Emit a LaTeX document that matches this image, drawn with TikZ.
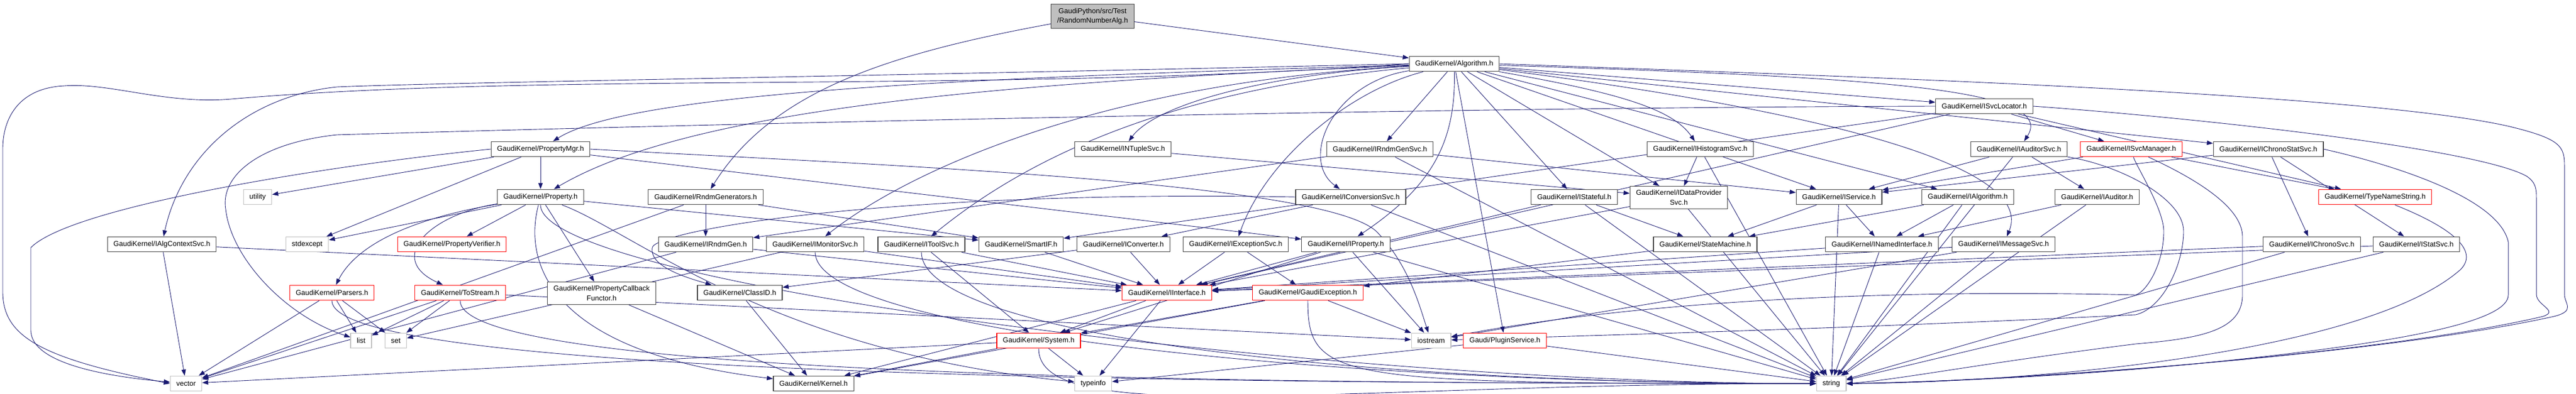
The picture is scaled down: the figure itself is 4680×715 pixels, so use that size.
\documentclass[tikz,border=0pt]{standalone}
\usepackage{fontspec}
\setmainfont{Liberation Sans}
\usetikzlibrary{arrows.meta,backgrounds}

\definecolor{midnight}{HTML}{191970}
\definecolor{boxgray}{HTML}{404040}
\definecolor{sysgray}{HTML}{BFBFBF}

\tikzset{
  hdr/.style={draw=boxgray, line width=1.3pt, fill=white, inner xsep=11pt, inner ysep=7pt,
    minimum height=27.5pt, align=center, font=\fontsize{13}{17.4}\selectfont},
  trunc/.style={hdr, draw=red},
  sys/.style={hdr, draw=sysgray, line width=1.2pt},
  root/.style={hdr, fill=sysgray},
  dep/.style={draw=midnight, line width=0.9pt, -{Triangle[length=11pt,width=8pt]}}
}

\begin{document}
\begin{tikzpicture}[x=1pt,y=-1pt]
\useasboundingbox (0,0) rectangle (4680,715);

\node[root] (top) at (1985,29.5) {GaudiPython/src/Test\\/RandomNumberAlg.h};
\node[hdr] (alg) at (2642,116) {GaudiKernel/Algorithm.h};
\node[hdr] (svcloc) at (3605,193) {GaudiKernel/ISvcLocator.h};

\node[hdr] (pmgr) at (982,271) {GaudiKernel/PropertyMgr.h};
\node[hdr] (ntuple) at (2040,271) {GaudiKernel/INTupleSvc.h};
\node[hdr] (rndmsvc) at (2507,271) {GaudiKernel/IRndmGenSvc.h};
\node[hdr] (histo) at (3089,271) {GaudiKernel/IHistogramSvc.h};
\node[hdr] (audsvc) at (3668,271) {GaudiKernel/IAuditorSvc.h};
\node[trunc] (svcmgr) at (3872,271) {GaudiKernel/ISvcManager.h};
\node[hdr] (chronostat) at (4121,271) {GaudiKernel/IChronoStatSvc.h};

\node[sys] (utility) at (468,358) {utility};
\node[hdr] (prop) at (982,358) {GaudiKernel/Property.h};
\node[hdr] (rndmgens) at (1282,358) {GaudiKernel/RndmGenerators.h};
\node[hdr] (convsvc) at (2454,358) {GaudiKernel/IConversionSvc.h};
\node[hdr] (stateful) at (2860,358) {GaudiKernel/IStateful.h};
\node[hdr] (dataprov) at (3050,359) {GaudiKernel/IDataProvider\\Svc.h};
\node[hdr] (service) at (3341,358) {GaudiKernel/IService.h};
\node[hdr] (ialg) at (3575,358) {GaudiKernel/IAlgorithm.h};
\node[hdr] (auditor) at (3810,358) {GaudiKernel/IAuditor.h};
\node[trunc] (typename) at (4315,358) {GaudiKernel/TypeNameString.h};

\node[hdr] (algctx) at (294,444) {GaudiKernel/IAlgContextSvc.h};
\node[sys] (stdexcept) at (558,444) {stdexcept};
\node[trunc] (verifier) at (821,444) {GaudiKernel/PropertyVerifier.h};
\node[hdr] (rndmgen) at (1282,444) {GaudiKernel/IRndmGen.h};
\node[hdr] (monitor) at (1481,444) {GaudiKernel/IMonitorSvc.h};
\node[hdr] (toolsvc) at (1674,444) {GaudiKernel/IToolSvc.h};
\node[hdr] (smartif) at (1855,444) {GaudiKernel/SmartIF.h};
\node[hdr] (converter) at (2041,444) {GaudiKernel/IConverter.h};
\node[hdr] (excsvc) at (2245,444) {GaudiKernel/IExceptionSvc.h};
\node[hdr] (iprop) at (2445,444) {GaudiKernel/IProperty.h};
\node[hdr] (statemach) at (3098,444) {GaudiKernel/StateMachine.h};
\node[hdr] (named) at (3419,444) {GaudiKernel/INamedInterface.h};
\node[hdr] (msgsvc) at (3640,444) {GaudiKernel/IMessageSvc.h};
\node[hdr] (chrono) at (4200,444) {GaudiKernel/IChronoSvc.h};
\node[hdr] (stat) at (4390,444) {GaudiKernel/IStatSvc.h};

\node[trunc] (parsers) at (603,532) {GaudiKernel/Parsers.h};
\node[trunc] (tostream) at (836,532) {GaudiKernel/ToStream.h};
\node[hdr] (callback) at (1093,533) {GaudiKernel/PropertyCallback\\Functor.h};
\node[hdr] (classid) at (1344,532) {GaudiKernel/ClassID.h};
\node[trunc] (iface) at (2120,532) {GaudiKernel/IInterface.h};
\node[trunc] (gexc) at (2376,532) {GaudiKernel/GaudiException.h};

\node[sys] (list) at (656,619) {list};
\node[sys] (set) at (719,619) {set};
\node[trunc] (system) at (1887,619) {GaudiKernel/System.h};
\node[sys] (iostream) at (2600,619) {iostream};
\node[trunc] (plugin) at (2734,619) {Gaudi/PluginService.h};

\node[sys] (vector) at (338,697) {vector};
\node[hdr] (kernel) at (1478,697) {GaudiKernel/Kernel.h};
\node[sys] (typeinfo) at (1986,697) {typeinfo};
\node[sys] (string) at (3327,697) {string};

\begin{pgfonlayer}{background}
% straight includes
\foreach \s/\t in {top/alg, alg/rndmsvc, alg/stateful, alg/dataprov, alg/plugin, alg/svcloc,
    alg/service, alg/ialg, alg/chronostat,
    pmgr/prop, pmgr/utility, pmgr/stdexcept, pmgr/iprop,
    prop/verifier, prop/callback, prop/stdexcept, prop/smartif,
    rndmgens/rndmgen, rndmgens/vector, rndmgens/smartif,
    rndmgen/iface, rndmgen/vector, monitor/iface, monitor/set, algctx/iface, algctx/vector,
    parsers/list, parsers/set, parsers/vector, tostream/list, tostream/set, tostream/vector,
    tostream/iostream, callback/kernel, classid/kernel, toolsvc/iface, toolsvc/system, smartif/iface,
    converter/iface, converter/classid, excsvc/iface, excsvc/gexc,
    iface/system, iface/typeinfo, iface/kernel, system/typeinfo, system/kernel, system/vector,
    gexc/system, gexc/kernel, gexc/iostream, ntuple/dataprov, rndmsvc/service, rndmsvc/rndmgen,
    rndmsvc/string, convsvc/converter, convsvc/string, iprop/iface, iprop/system, iprop/iostream,
    iprop/string, stateful/iface, stateful/statemach, stateful/string, dataprov/iface, dataprov/string,
    histo/dataprov, histo/string, statemach/gexc,
    svcloc/svcmgr, svcloc/iface, svcloc/typename, svcloc/smartif,
    audsvc/service, audsvc/auditor, audsvc/string, svcmgr/service, svcmgr/typename,
    chronostat/chrono, chronostat/stat, chronostat/service,
    service/named, service/statemach, service/string, ialg/named, ialg/statemach, ialg/string,
    auditor/named, auditor/string, named/iface, named/string,
    msgsvc/iface, msgsvc/string, msgsvc/iostream, chrono/iface, chrono/string,
    stat/iface, stat/string, plugin/string, plugin/typeinfo}
  \draw[dep] (\s) -- (\t);

% long runs into string from the left
\foreach \s in {prop, parsers, tostream, monitor, toolsvc, system, gexc}
  \draw[dep] (\s) .. controls +(0,160) and +(-900,0) .. (string);

\draw[dep] (top) .. controls (1600,100) and (1400,170) .. (rndmgens);
\draw[dep] (alg) .. controls (1800,140) and (1150,165) .. (pmgr);
\draw[dep] (alg) .. controls (1800,150) and (1250,200) .. (prop);
\draw[dep] (alg) .. controls (2100,165) and (1850,300) .. (toolsvc);
\draw[dep] (alg) .. controls (2000,150) and (1650,310) .. (monitor);
\draw[dep] (alg) .. controls (2300,135) and (2100,190) .. (ntuple);
\draw[dep] (alg) .. controls (2450,165) and (2300,290) .. (excsvc);
\draw[dep] (alg) .. controls (2420,150) and (2360,290) .. (convsvc);
\draw[dep] (alg) .. controls (2645,260) and (2600,340) .. (iprop);
\draw[dep] (alg) .. controls (2950,170) and (3040,200) .. (histo);
\draw[dep] (alg) .. controls (3400,140) and (3740,160) .. (audsvc);
\draw[dep] (alg) .. controls (3300,200) and (3700,300) .. (msgsvc);
\draw[dep] (alg.west) .. controls (1500,140) and (800,150) .. (612,158)
  .. controls (450,175) and (330,280) .. (algctx);
\draw[dep] (alg.west) .. controls (1800,170) and (1000,130) .. (420,180)
  .. controls (300,190) and (200,150) .. (117,156) .. controls (30,160) and (5,220) .. (5,270)
  -- (5,530) .. controls (5,610) and (70,650) .. (vector.west);
\draw[dep] (alg.east) .. controls (3400,140) and (4300,170) .. (4560,230)
  .. controls (4650,252) and (4659,265) .. (4659,300) -- (4659,535)
  .. controls (4659,552) and (4680,565) .. (4640,575) .. controls (4300,650) and (3600,695) .. (string.east);
\draw[dep] (svcloc.west) .. controls (2600,195) and (1300,225) .. (612,245)
  .. controls (470,260) and (400,320) .. (410,380) .. controls (420,470) and (520,575) .. (list);
\draw[dep] (svcloc.east) .. controls (4000,215) and (4500,270) .. (4590,320)
  .. controls (4608,332) and (4608,345) .. (4608,360) -- (4608,535)
  .. controls (4608,555) and (4650,565) .. (4620,575) .. controls (4300,650) and (3600,695) .. (string.east);
\draw[dep] (pmgr.west) .. controls (600,300) and (130,375) .. (56,450) -- (56,600)
  .. controls (56,650) and (150,680) .. (vector);
\draw[dep] (pmgr.east) .. controls (1600,300) and (2400,330) .. (2500,420)
  .. controls (2560,480) and (2580,560) .. (iostream);
\draw[dep] (convsvc.west) .. controls (1600,345) and (1190,420) .. (1185,450)
  .. controls (1180,480) and (1230,500) .. (classid);
\draw[dep] (chronostat.east) .. controls (4350,300) and (4540,360) .. (4557,440) -- (4557,536)
  .. controls (4557,580) and (4400,620) .. (4000,660) .. controls (3700,690) and (3450,695) .. (string.east);
\draw[dep] (typename) .. controls (4470,420) and (4500,460) .. (4470,490)
  .. controls (4300,640) and (3700,695) .. (string.east);
\draw[dep] (svcmgr) .. controls (4000,330) and (4074,380) .. (4074,430) -- (4074,536)
  .. controls (4074,600) and (4000,615) .. (3880,625) .. controls (3600,660) and (3450,690) .. (string.east);
\draw[dep] (svcmgr) .. controls (3880,300) and (3931,380) .. (3931,420)
  .. controls (3931,480) and (3900,530) .. (3880,536) .. controls (3200,520) and (2800,580) .. (iostream);
\draw[dep] (audsvc) .. controls (3850,300) and (3967,360) .. (3967,420)
  .. controls (3967,480) and (3930,560) .. (3880,572) .. controls (3300,600) and (2800,612) .. (iostream);
\draw[dep] (prop) .. controls (950,480) and (1000,640) .. (kernel);
\draw[dep] (prop) .. controls (1150,420) and (1400,640) .. (typeinfo);
\draw[dep] (prop) .. controls (780,390) and (700,470) .. (tostream);
\draw[dep] (prop) .. controls (760,395) and (650,440) .. (parsers);
\end{pgfonlayer}
\end{tikzpicture}
\end{document}
